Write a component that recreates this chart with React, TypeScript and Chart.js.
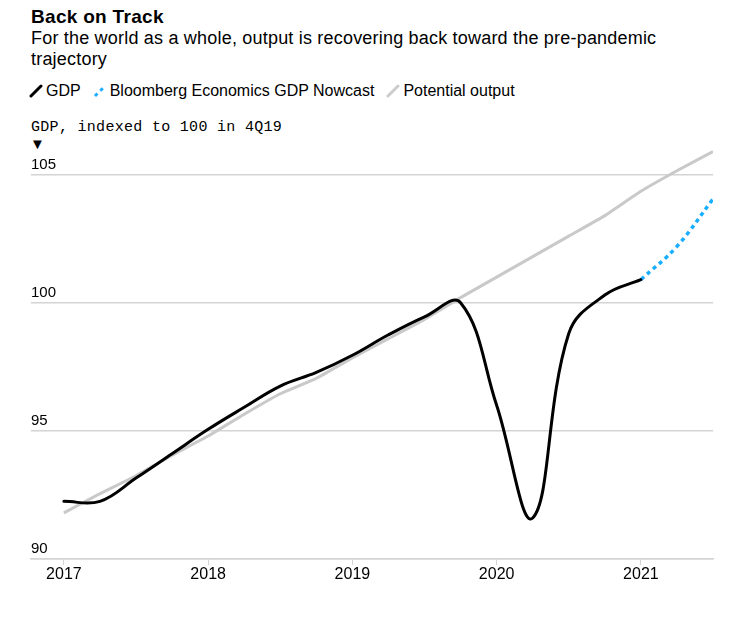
import { useEffect, useRef } from "react";
import { Chart, registerables } from "chart.js";

Chart.register(...registerables);

const gdpQuarters = [2017, 2017.25, 2017.5, 2017.75, 2018, 2018.25, 2018.5, 2018.75, 2019, 2019.25, 2019.5, 2019.75, 2020, 2020.25, 2020.5, 2020.75, 2021];
const gdpValues = [92.25, 92.25, 93.16, 94.11, 95.06, 95.92, 96.75, 97.28, 97.95, 98.75, 99.45, 100.0, 96.0, 91.6, 98.8, 100.3, 100.9];

const nowcastQuarters = [2021, 2021.25, 2021.5];
const nowcastValues = [100.9, 102.2, 104.05];

const potentialQuarters = [2017, 2017.25, 2017.5, 2017.75, 2018, 2018.25, 2018.5, 2018.75, 2019, 2019.25, 2019.5, 2019.75, 2020, 2020.25, 2020.5, 2020.75, 2021, 2021.25, 2021.5];
const potentialValues = [91.8, 92.55, 93.25, 94.05, 94.8, 95.65, 96.45, 97.05, 97.85, 98.6, 99.35, 100.2, 101.0, 101.8, 102.6, 103.4, 104.35, 105.15, 105.9];

const yearTicks = [2017, 2018, 2019, 2020, 2021];
const valueTicks = [90, 95, 100, 105];

const SANS = "'Liberation Sans', Arial, sans-serif";
const MONO = "'Liberation Mono', 'DejaVu Sans Mono', monospace";

function pts(xs: number[], ys: number[]) {
  return xs.map((x, i) => ({ x, y: ys[i] }));
}

function ChartCanvas() {
  const ref = useRef<HTMLCanvasElement | null>(null);
  useEffect(() => {
    if (!ref.current) return;
    const chart = new Chart(ref.current, {
      type: "line",
      data: {
        datasets: [
          {
            label: "GDP",
            data: pts(gdpQuarters, gdpValues),
            borderColor: "#000000",
            borderWidth: 3,
            pointRadius: 0,
            tension: 0.4,
            borderCapStyle: "round",
          },
          {
            label: "Bloomberg Economics GDP Nowcast",
            data: pts(nowcastQuarters, nowcastValues),
            borderColor: "#1aaeff",
            borderWidth: 3.5,
            borderDash: [4, 4],
            pointRadius: 0,
            tension: 0.4,
          },
          {
            label: "Potential output",
            data: pts(potentialQuarters, potentialValues),
            borderColor: "#c9c9c9",
            borderWidth: 3,
            pointRadius: 0,
            tension: 0.15,
          },
        ],
      },
      options: {
        animation: false,
        responsive: false,
        maintainAspectRatio: false,
        layout: { padding: { left: 31, right: 35, top: 8.8, bottom: 11 } },
        plugins: { legend: { display: false }, tooltip: { enabled: false } },
        scales: {
          x: {
            type: "linear",
            min: 2016.772,
            max: 2021.5,
            afterBuildTicks: (s: any) => {
              s.ticks = yearTicks.map((v) => ({ value: v }));
            },
            afterFit: (s: any) => {
              s.height = 30;
            },
            grid: {
              drawOnChartArea: false,
              drawTicks: true,
              tickLength: 6,
              color: "#d4d4d4",
              lineWidth: 1,
            },
            border: { display: true, color: "#d4d4d4", width: 1.5 },
            ticks: {
              autoSkip: false,
              maxRotation: 0,
              padding: 0,
              color: "#000000",
              font: { family: SANS, size: 16 },
              callback: (v: any) => String(v),
            },
          },
          y: {
            type: "linear",
            min: 90,
            max: 106,
            afterBuildTicks: (s: any) => {
              s.ticks = valueTicks.map((v) => ({ value: v }));
            },
            afterFit: (s: any) => {
              s.width = 0;
            },
            grid: { drawTicks: false, color: "#d4d4d4", lineWidth: 1.5 },
            border: { display: false },
            ticks: {
              mirror: true,
              padding: 0,
              labelOffset: -10,
              color: "#000000",
              font: { family: SANS, size: 15 },
              callback: (v: any) => String(v),
            },
          },
        },
      },
    } as any);
    return () => chart.destroy();
  }, []);
  return (
    <canvas
      ref={ref}
      width={748}
      height={460}
      style={{ position: "absolute", left: 0, top: 140, width: 748, height: 460 }}
    />
  );
}

function Slash({ color, dotted }: { color: string; dotted?: boolean }) {
  return (
    <svg width="14" height="14" viewBox="0 0 14 14" style={{ display: "inline-block", verticalAlign: "-2px", marginRight: 3 }}>
      <line
        x1="2"
        y1="12"
        x2="12"
        y2="2"
        stroke={color}
        strokeWidth="3"
        strokeLinecap={dotted ? "butt" : "round"}
        strokeDasharray={dotted ? "3.5 4" : undefined}
      />
    </svg>
  );
}

export default function App() {
  return (
    <div style={{ position: "absolute", left: 0, top: 0, width: 748, height: 621, background: "#fff", overflow: "hidden" }}>
      <div style={{ position: "absolute", left: 31, top: 7.4, fontFamily: SANS, fontWeight: 700, fontSize: 19, letterSpacing: 0.3, lineHeight: "20px", color: "#000", whiteSpace: "nowrap" }}>
        Back on Track
      </div>
      <div style={{ position: "absolute", left: 31, top: 27.6, width: 680, fontFamily: SANS, fontSize: 18, letterSpacing: 0.2, lineHeight: "21px", color: "#000" }}>
        For the world as a whole, output is recovering back toward the pre-pandemic trajectory
      </div>
      <div style={{ position: "absolute", left: 29, top: 81, fontFamily: SANS, fontSize: 16, lineHeight: "20px", color: "#000", whiteSpace: "nowrap" }}>
        <span style={{ marginRight: 12 }}>
          <Slash color="#000" />GDP
        </span>
        <span style={{ marginRight: 12 }}>
          <Slash color="#1aaeff" dotted />Bloomberg Economics GDP Nowcast
        </span>
        <span>
          <Slash color="#cccccc" />Potential output
        </span>
      </div>
      <div style={{ position: "absolute", left: 31, top: 119, fontFamily: MONO, fontSize: 15, letterSpacing: 0.3, lineHeight: "18px", color: "#000", whiteSpace: "nowrap" }}>
        GDP, indexed to 100 in 4Q19
      </div>
      <div style={{ position: "absolute", left: 30, top: 134.5, fontFamily: SANS, fontSize: 15, lineHeight: "18px", color: "#000" }}>
        ▼
      </div>
      <ChartCanvas />
    </div>
  );
}
